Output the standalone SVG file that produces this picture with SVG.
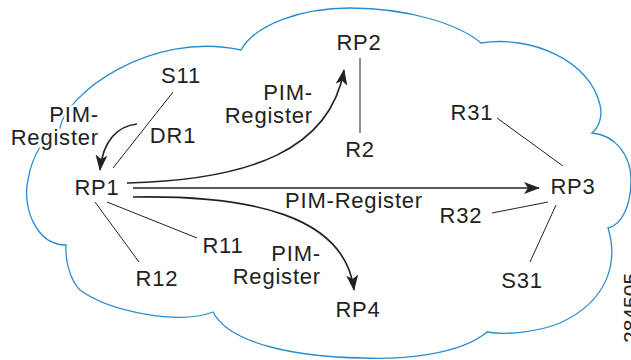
<svg xmlns="http://www.w3.org/2000/svg" width="631" height="360" viewBox="0 0 631 360">
<defs>
<style>
.t{font-family:"Liberation Sans",Arial,Helvetica,sans-serif;font-size:22px;letter-spacing:0.8px;fill:#222;}
.m{text-anchor:middle;}
.e{text-anchor:end;}
.halo{stroke:#fff;stroke-width:5px;paint-order:stroke;stroke-linejoin:round;}
.ln{stroke:#222;stroke-width:1;fill:none;}
.ar{stroke:#222;stroke-width:1.6;fill:none;marker-end:url(#ah);}
.cloud{stroke:#2a8ccf;stroke-width:1.3;fill:none;}
</style>
<marker id="ah" viewBox="0 0 16 12" refX="15" refY="6" markerUnits="userSpaceOnUse" markerWidth="16" markerHeight="12" orient="auto">
<path d="M0,0 L16,6 L0,12 L4,6 z" fill="#222"/>
</marker>
</defs>
<rect width="631" height="360" fill="#fff"/>
<path id="cloud" class="cloud" d="M241,50 C255,25 300,8 350,8 C410,8 460,25 481,43 C530,35 590,60 600,105 C603,118 598,128 592,133 C615,135 631,155 631,180 C631,205 622,225 608,228 C618,260 610,300 560,323 C535,333 505,335 487,332 C460,355 400,360 362,358 C300,357 230,345 213,312 C180,325 110,312 80,290 C70,280 65,260 66,245 C35,245 22,205 28,180 C32,155 45,135 60,128 C65,95 150,30 241,50 Z"/>
<g id="connectors">
<line class="ln" x1="173" y1="92" x2="113" y2="168"/>
<line class="ln" x1="360" y1="58" x2="360" y2="133"/>
<line class="ln" x1="497" y1="118" x2="563" y2="166"/>
<line class="ln" x1="492" y1="213" x2="548" y2="202"/>
<line class="ln" x1="530" y1="262" x2="556" y2="205"/>
<line class="ln" x1="107" y1="202" x2="197" y2="238"/>
<line class="ln" x1="95" y1="202" x2="139" y2="262"/>
<path class="ar" d="M137,124 C118,126 103,140 100,170"/>
<path class="ar" d="M127,183 C250,180 330,150 344,70"/>
<path class="ar" d="M133,188 L539,188"/>
<path class="ar" d="M133,197 C250,195 345,215 354,290"/>
</g>
<g id="labels">
<text class="t e halo" x="99" y="122">PIM-</text>
<text class="t e halo" x="99" y="145">Register</text>
<text class="t e" x="313" y="100">PIM-</text>
<text class="t e" x="313" y="123">Register</text>
<text class="t" x="285" y="208">PIM-Register</text>
<text class="t e" x="321" y="261">PIM-</text>
<text class="t e" x="321" y="284">Register</text>
<text class="t m" x="173" y="143">DR1</text>
</g>
<g id="RP1"><text class="t m" x="97" y="195">RP1</text></g>
<g id="RP2"><text class="t m" x="359" y="50">RP2</text></g>
<g id="RP3"><text class="t m" x="573" y="194">RP3</text></g>
<g id="RP4"><text class="t m" x="358" y="317">RP4</text></g>
<g id="S11"><text class="t m" x="181" y="83">S11</text></g>
<g id="R2"><text class="t m" x="360" y="157">R2</text></g>
<g id="R11"><text class="t m" x="223" y="253">R11</text></g>
<g id="R12"><text class="t m" x="157" y="286">R12</text></g>
<g id="R31"><text class="t m" x="472" y="120">R31</text></g>
<g id="R32"><text class="t m" x="461" y="223">R32</text></g>
<g id="S31"><text class="t m" x="522" y="288">S31</text></g>
<text transform="translate(638,343) rotate(-90)" style="font-family:'Liberation Sans',Arial,sans-serif;font-size:21px;fill:#222;">284505</text>
</svg>
